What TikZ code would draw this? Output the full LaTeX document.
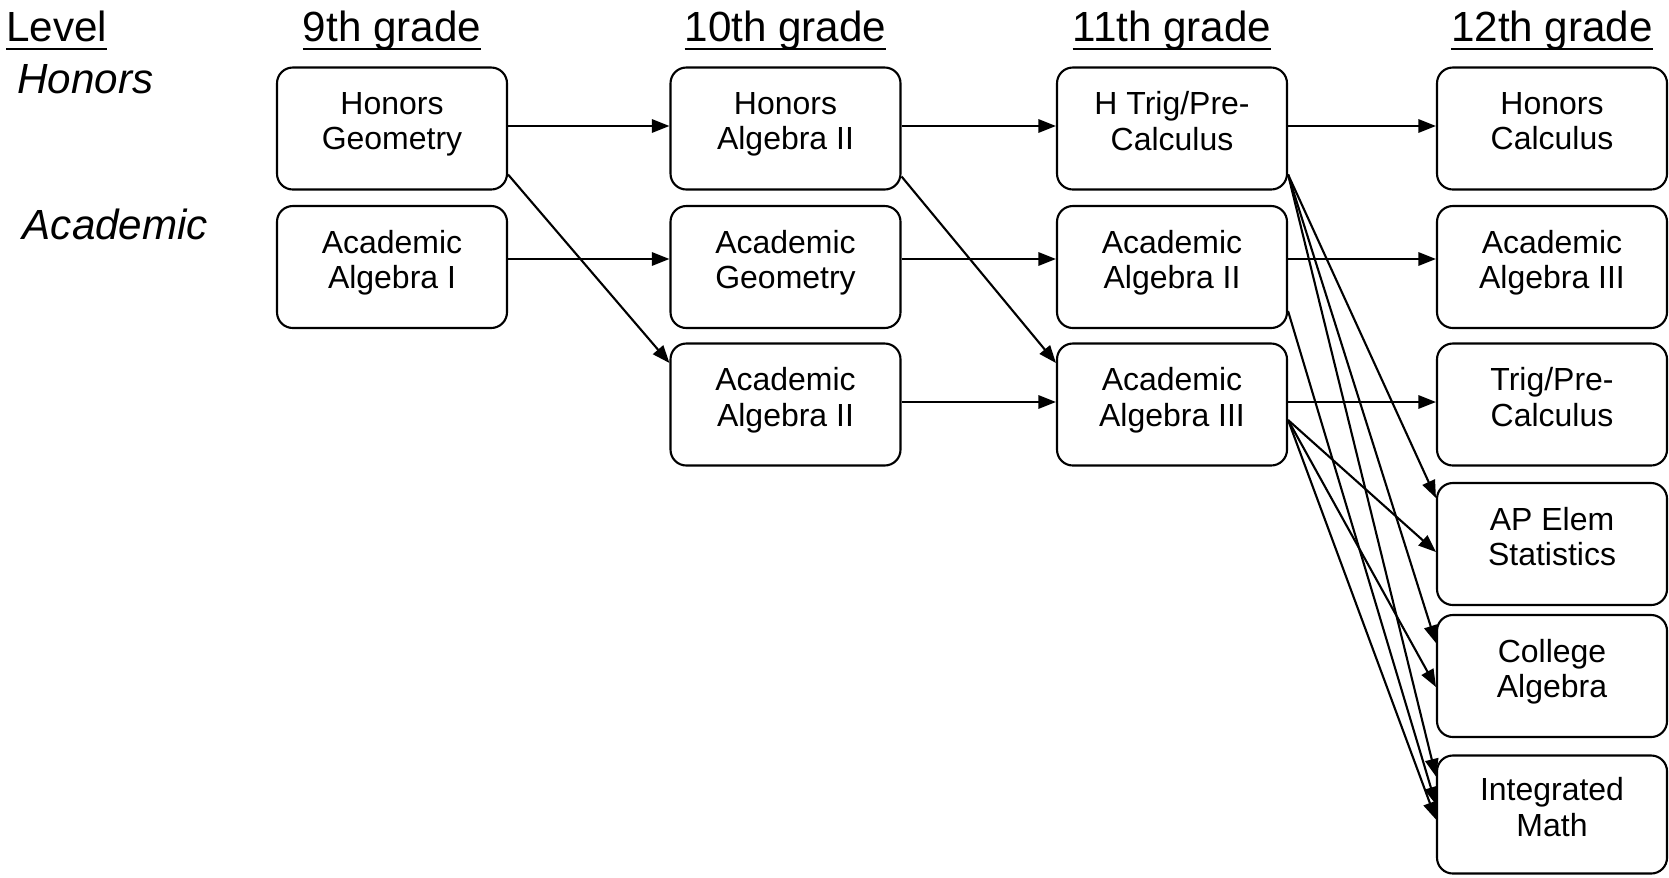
\documentclass[tikz,border=0pt]{standalone}
\usepackage{fontspec}
\setmainfont{Liberation Sans}
\usetikzlibrary{arrows.meta}
\newcommand{\cellsize}{\fontsize{18.2}{20.3}\selectfont}
\newcommand{\headsize}{\fontsize{24}{28}\selectfont}
\newcommand{\ulhead}[1]{\setbox0=\hbox{#1}\rlap{\rule[-5.4pt]{\wd0}{1.7pt}}\box0}
\tikzset{
 every node/.append style={font=\cellsize,text=black,align=center},
 box/.style={draw=black,rounded corners=9pt,line width=1.2pt,minimum width=4.6cm,minimum height=2.44cm,inner sep=2pt,
  execute at begin node=\strut,execute at end node=\rule[-8.5pt]{0pt}{8.5pt}},
 head/.style={font=\headsize,inner sep=0pt,anchor=base},
 side/.style={font=\headsize\itshape,inner sep=0pt,anchor=base west},
 flow/.style={-{Triangle[length=10pt,width=7.6pt]},draw=black,line width=1.2pt},
}

\begin{document}
\begin{tikzpicture}

\useasboundingbox (0,0) rectangle (33.38,-17.54);
% headings
\node[head,anchor=base west] (level) at (0.12,-0.82) {\ulhead{Level}};
\node[head] (g9) at (7.84,-0.82) {\ulhead{9th grade}};
\node[head] (g10) at (15.71,-0.82) {\ulhead{10th grade}};
\node[head] (g11) at (23.44,-0.82) {\ulhead{11th grade}};
\node[head] (g12) at (31.04,-0.82) {\ulhead{12th grade}};
\node[side] (honors) at (0.34,-1.86) {Honors};
\node[side] (academic) at (0.45,-4.78) {Academic};
% courses
\node[box] (hgeo) at (7.84,-2.57) {Honors\\Geometry};
\node[box] (alg1) at (7.84,-5.34) {Academic\\Algebra I};
\node[box] (halg2) at (15.71,-2.57) {Honors\\Algebra II};
\node[box] (ageo) at (15.71,-5.34) {Academic\\Geometry};
\node[box] (alg2) at (15.71,-8.09) {Academic\\Algebra II};
\node[box] (htrig) at (23.44,-2.57) {H Trig/Pre-\\Calculus};
\node[box] (alg2b) at (23.44,-5.34) {Academic\\Algebra II};
\node[box] (alg3) at (23.44,-8.09) {Academic\\Algebra III};
\node[box] (hcalc) at (31.04,-2.57) {Honors\\Calculus};
\node[box] (alg3b) at (31.04,-5.34) {Academic\\Algebra III};
\node[box] (trig) at (31.04,-8.09) {Trig/Pre-\\Calculus};
\node[box] (stats) at (31.04,-10.88) {AP Elem\\Statistics};
\node[box] (coll) at (31.04,-13.52) {College\\Algebra};
\node[box,minimum height=2.36cm] (integ) at (31.04,-16.29) {Integrated\\Math};
% straight paths
\draw[flow] ([yshift=.05cm]hgeo.east) -- ([yshift=.05cm]halg2.west);
\draw[flow] ([yshift=.05cm]halg2.east) -- ([yshift=.05cm]htrig.west);
\draw[flow] ([yshift=.05cm]htrig.east) -- ([yshift=.05cm]hcalc.west);
\draw[flow] ([yshift=.16cm]alg1.east) -- ([yshift=.16cm]ageo.west);
\draw[flow] ([yshift=.16cm]ageo.east) -- ([yshift=.16cm]alg2b.west);
\draw[flow] ([yshift=.16cm]alg2b.east) -- ([yshift=.16cm]alg3b.west);
\draw[flow] ([yshift=.05cm]alg2.east) -- ([yshift=.05cm]alg3.west);
\draw[flow] ([yshift=.05cm]alg3.east) -- ([yshift=.05cm]trig.west);
% drops
\draw[flow] ([yshift=-.92cm]hgeo.east) -- ([yshift=.83cm]alg2.west);
\draw[flow] ([yshift=-.96cm]halg2.east) -- ([yshift=.83cm]alg3.west);
\draw[flow] ([yshift=-.92cm]htrig.east) -- ([yshift=.92cm]stats.west);
\draw[flow] ([yshift=-.92cm]htrig.east) -- ([yshift=.66cm]coll.west);
\draw[flow] ([yshift=-.92cm]htrig.east) -- ([yshift=.76cm]integ.west);
\draw[flow] ([yshift=-.88cm]alg2b.east) -- ([yshift=.20cm]integ.west);
\draw[flow] ([yshift=-.31cm]alg3.east) -- ([yshift=-.16cm]stats.west);
\draw[flow] ([yshift=-.31cm]alg3.east) -- ([yshift=-.22cm]coll.west);
\draw[flow] ([yshift=-.31cm]alg3.east) -- ([yshift=-.10cm]integ.west);

\end{tikzpicture}
\end{document}
